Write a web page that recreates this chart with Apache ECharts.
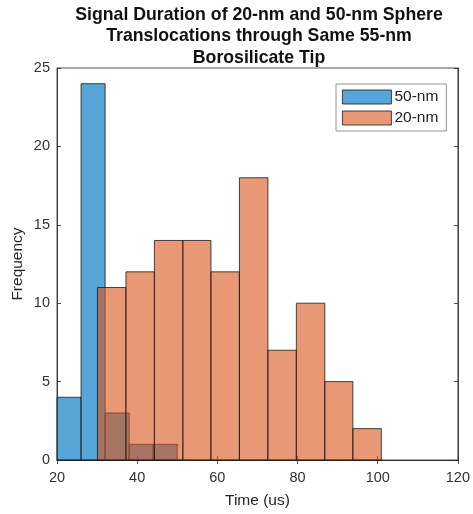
<!DOCTYPE html>
<html>
<head>
<meta charset="utf-8">
<script src="https://cdn.jsdelivr.net/npm/echarts@6/dist/echarts.min.js"></script>
<style>html,body{margin:0;padding:0;background:#fff;}#c{width:473px;height:514px;}</style>
</head>
<body>
<div id="c"></div>
<script>
const titleLines = ['Signal Duration of 20-nm and 50-nm Sphere', 'Translocations through Same 55-nm', 'Borosilicate Tip'];
const seriesNames = ['50-nm', '20-nm'];
const binEdges50 = [20, 26, 32, 38, 44, 50];
const counts50 = [4, 24, 3, 1, 1];
const binEdges20 = [30.1, 37.2, 44.3, 51.4, 58.4, 65.5, 72.6, 79.7, 86.8, 93.8, 100.9];
const counts20 = [11, 12, 14, 14, 12, 18, 7, 10, 5, 2];
const xTicks = [20, 40, 60, 80, 100, 120];
const yTicks = [0, 5, 10, 15, 20, 25];
const xLabel = 'Time (us)';
const yLabel = 'Frequency';

function toBins(edges, counts) {
  return counts.map((c, i) => [edges[i], edges[i + 1], c]);
}
const fills = ['rgba(0,118,195,0.66)', 'rgba(217,83,25,0.6)'];
const legendColors = ['#55a5da', '#e89875'];

function makeRender(fill) {
  return function (params, api) {
    const x0 = api.value(0), x1 = api.value(1), c = api.value(2);
    const p0 = api.coord([x0, c]);
    const p1 = api.coord([x1, 0]);
    return {
      type: 'rect',
      shape: { x: p0[0], y: p0[1], width: p1[0] - p0[0], height: p1[1] - p0[1] },
      style: { fill: fill, stroke: '#1a1a1a', lineWidth: 0.8 }
    };
  };
}

const font = 'Liberation Sans, Arial, Helvetica, sans-serif';
const chart = echarts.init(document.getElementById('c'), null, { renderer: 'canvas' });
const axisCommon = {
  axisLine: { show: true, lineStyle: { color: '#262626', width: 0.8 } },
  axisTick: { show: true, inside: true, length: 4, lineStyle: { color: '#262626', width: 0.8 } },
  splitLine: { show: false }
};
chart.setOption({
  animation: false,
  backgroundColor: '#fff',
  graphic: [{
    type: 'text', left: 259 - 200, top: 4,
    style: {
      text: titleLines.join('\n'), width: 400, align: 'center', textAlign: 'center',
      x: 200, fontFamily: font, fontWeight: 'bold', fontSize: 17.7, lineHeight: 21.5, fill: '#111'
    }
  }],
  grid: { left: 57, right: 12, top: 68, bottom: 52, show: true, borderColor: '#262626', borderWidth: 0.8, backgroundColor: 'transparent' },
  legend: {
    data: seriesNames.map((n, i) => ({ name: n, icon: 'rect', itemStyle: { color: legendColors[i], borderColor: '#1a1a1a', borderWidth: 0.8 } })),
    orient: 'vertical', left: 336, top: 84,
    itemWidth: 49, itemHeight: 14, itemGap: 5,
    padding: [5, 8, 5, 6],
    backgroundColor: '#fff', borderColor: '#777', borderWidth: 0.8,
    textStyle: { fontFamily: font, fontSize: 15.5, color: '#222', padding: [0, 0, 0, -2] },
    selectedMode: false
  },
  xAxis: [
    Object.assign({
      type: 'value', min: xTicks[0], max: xTicks[xTicks.length - 1], interval: 20, position: 'bottom',
      name: xLabel, nameLocation: 'middle', nameGap: 33, nameMoveOverlap: false,
      nameTextStyle: { fontFamily: font, fontSize: 15.5, color: '#262626' },
      axisLabel: { fontFamily: font, fontSize: 14.5, color: '#333', margin: 10,
        formatter: v => (xTicks.indexOf(v) >= 0 ? String(v) : '') }
    }, axisCommon),
    Object.assign({
      type: 'value', min: xTicks[0], max: xTicks[xTicks.length - 1], interval: 20, position: 'top',
      axisLabel: { show: false }
    }, axisCommon)
  ],
  yAxis: [
    Object.assign({
      type: 'value', min: yTicks[0], max: yTicks[yTicks.length - 1], interval: 5, position: 'left',
      name: yLabel, nameLocation: 'middle', nameGap: 31, nameRotate: 90, nameMoveOverlap: false,
      nameTextStyle: { fontFamily: font, fontSize: 15.5, color: '#262626' },
      axisLabel: { fontFamily: font, fontSize: 14.5, color: '#333', margin: 7,
        formatter: v => (yTicks.indexOf(v) >= 0 ? String(v) : '') }
    }, axisCommon),
    Object.assign({
      type: 'value', min: yTicks[0], max: yTicks[yTicks.length - 1], interval: 5, position: 'right',
      axisLabel: { show: false }
    }, axisCommon)
  ],
  series: [
    {
      name: seriesNames[0], type: 'custom', xAxisIndex: 0, yAxisIndex: 0,
      renderItem: makeRender(fills[0]), encode: { x: [0, 1], y: 2 },
      itemStyle: { color: legendColors[0] },
      data: toBins(binEdges50, counts50), z: 2
    },
    {
      name: seriesNames[1], type: 'custom', xAxisIndex: 0, yAxisIndex: 0,
      renderItem: makeRender(fills[1]), encode: { x: [0, 1], y: 2 },
      itemStyle: { color: legendColors[1] },
      data: toBins(binEdges20, counts20), z: 3
    }
  ]
});
</script>
</body>
</html>
